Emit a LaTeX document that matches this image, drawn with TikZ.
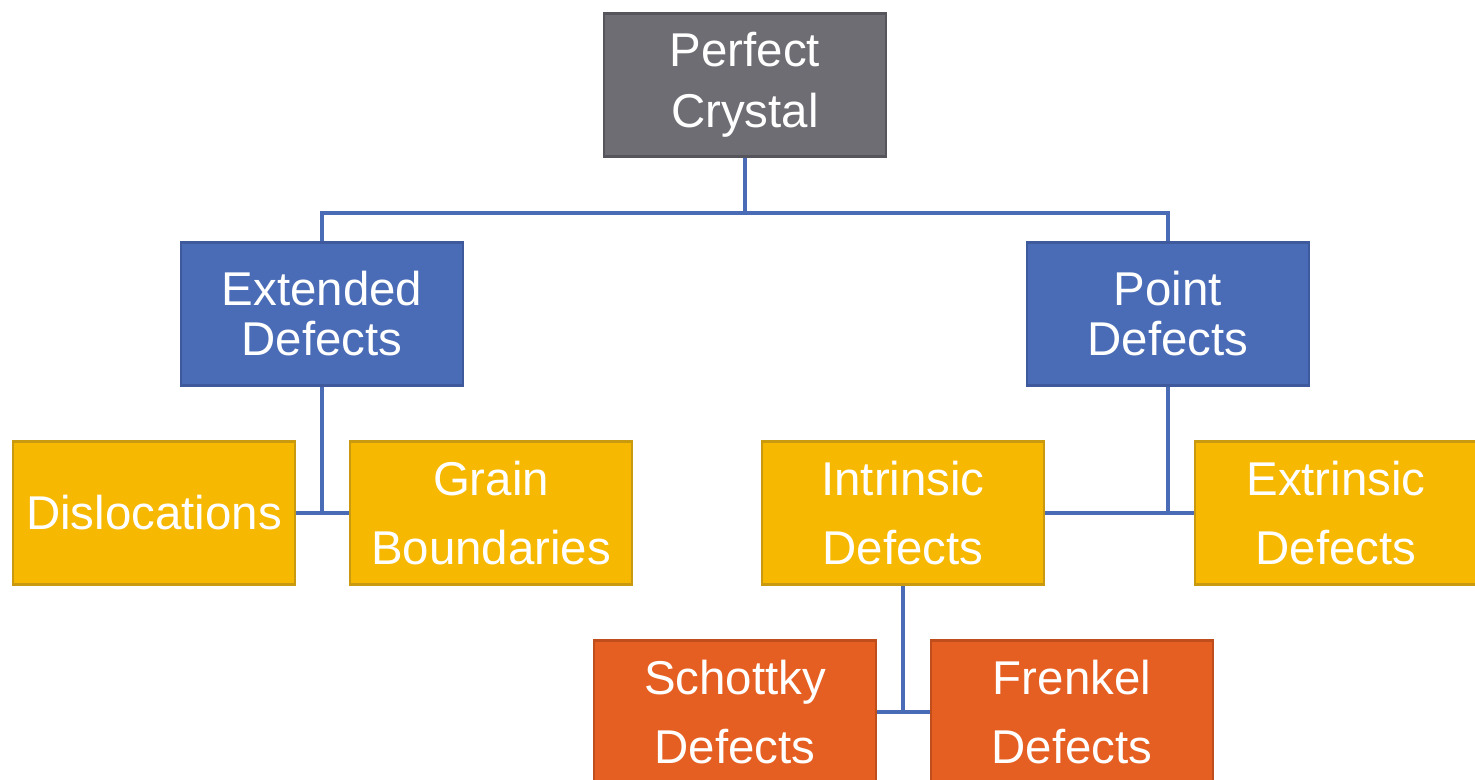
\documentclass[tikz,border=0pt]{standalone}
\usepackage{fontspec}
\setmainfont{Liberation Sans}

\definecolor{crystalgray}{HTML}{6E6D73}
\definecolor{crystalrim}{HTML}{56555B}
\definecolor{defblue}{HTML}{4A6CB7}
\definecolor{defbluerim}{HTML}{3E5A9C}
\definecolor{defyellow}{HTML}{F6B800}
\definecolor{defyellowrim}{HTML}{C99A10}
\definecolor{deforange}{HTML}{E65F22}
\definecolor{deforangerim}{HTML}{BF4E1C}
\definecolor{linkblue}{HTML}{4A6CB7}

\def\bW{5.64cm}
\def\bH{2.86cm}

\tikzset{
  box/.style={rectangle, minimum width=\bW, minimum height=\bH, inner sep=0pt,
              line width=1.2pt, align=center, text=white},
  graybox/.style={box, fill=crystalgray, draw=crystalrim,
                  font=\fontsize{27}{35}\selectfont},
  bluebox/.style={box, fill=defblue, draw=defbluerim,
                  font=\fontsize{27}{28.5}\selectfont},
  yellowbox/.style={box, fill=defyellow, draw=defyellowrim,
                    font=\fontsize{27}{39.5}\selectfont},
  orangebox/.style={box, fill=deforange, draw=deforangerim,
                    font=\fontsize{27}{39.5}\selectfont},
  link/.style={draw=linkblue, line width=1.8pt}
}

\begin{document}
\begin{tikzpicture}[x=0.02cm, y=-0.02cm]
    \useasboundingbox (0,0) rectangle (1475,780);

    %%   (lable)  (x, y)     {\text}
    \node[graybox]   (PC) at ( 745, 85) {Perfect\\Crystal};
    \node[bluebox]   (ED) at ( 322,314) {Extended\\Defects};
    \node[bluebox]   (PD) at (1168,314) {Point\\Defects};
    \node[yellowbox] (DL) at ( 154,513) {Dislocations};
    \node[yellowbox] (GB) at ( 491,513) {Grain\\Boundaries};
    \node[yellowbox] (ID) at ( 903,513) {Intrinsic\\Defects};
    \node[yellowbox] (XD) at (1336,513) {Extrinsic\\Defects};
    \node[orangebox] (SD) at ( 735,712) {Schottky\\Defects};
    \node[orangebox] (FD) at (1072,712) {Frenkel\\Defects};

    \coordinate (J1) at ( 745,213);
    \coordinate (J2) at ( 322,513);
    \coordinate (J3) at (1168,513);
    \coordinate (J4) at ( 903,712);

    \draw[link] (PC.south) -- (J1);
    \draw[link] (ED.north) |- (J1) -| (PD.north);

    \draw[link] (ED.south) -- (J2);
    \draw[link] (DL) -- (GB);

    \draw[link] (PD.south) -- (J3);
    \draw[link] (ID) -- (XD);

    \draw[link] (ID.south) -- (J4);
    \draw[link] (SD) -- (FD);

  \end{tikzpicture}
\end{document}
